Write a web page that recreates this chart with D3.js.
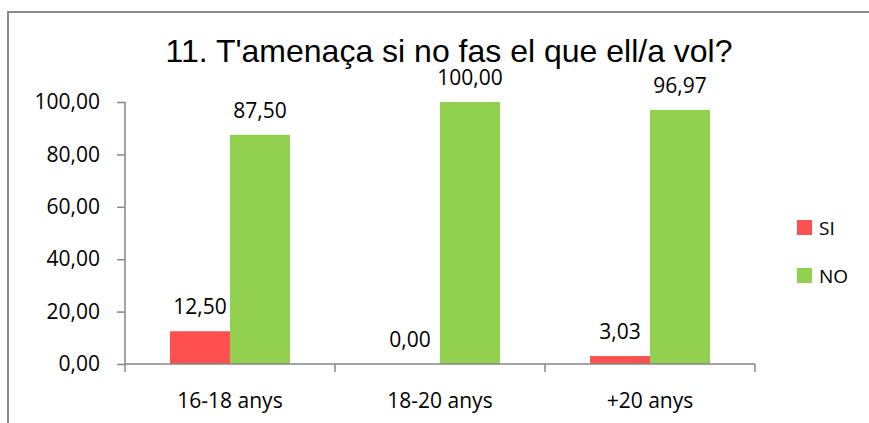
<!DOCTYPE html>
<html>
<head>
<meta charset="utf-8">
<script src="https://cdn.jsdelivr.net/npm/d3@7"></script>
<style>
  body { margin: 0; background: #fff; }
  svg { display: block; }
</style>
</head>
<body>
<svg id="chart" width="869" height="423"></svg>
<script>
// chart data
const categories = ['16-18 anys', '18-20 anys', '+20 anys'];
const seriesNames = ['SI', 'NO'];
const siValues = [12.50, 0.00, 3.03];
const noValues = [87.50, 100.00, 96.97];
const yTicks = [0, 20, 40, 60, 80, 100];
const titleText = "11. T'amenaça si no fas el que ell/a vol?";

const color = d3.scaleOrdinal().domain(seriesNames).range(['#FF5050', '#92D050']);
const fmt = v => d3.format('.2f')(v).replace('.', ',');
const labelFont = "'Open Sans', sans-serif";

const svg = d3.select('#chart');

// outer frame (runs off the right/bottom of the picture)
svg.append('rect')
    .attr('x', 8).attr('y', 12)
    .attr('width', 900).attr('height', 450)
    .attr('fill', '#fff')
    .attr('stroke', '#8a8a8a')
    .attr('stroke-width', 2);

// Scales
const x0 = d3.scaleBand().domain(categories).range([125, 755]);
const x1 = d3.scaleBand().domain(seriesNames).range([0, 120]);
const y = d3.scaleLinear().domain([0, 100]).range([364, 102]);

const rows = categories.map((c, i) => ({ cat: c, SI: siValues[i], NO: noValues[i] }));

// Title
svg.append('text')
    .attr('x', 449).attr('y', 62)
    .attr('text-anchor', 'middle')
    .style('font-family', "'Liberation Sans', Arial, sans-serif")
    .style('font-size', '32px')
    .attr('fill', '#000')
    .text(titleText);

// Y axis
const yAxis = svg.append('g')
    .attr('transform', 'translate(125,0)')
    .call(d3.axisLeft(y).tickValues(yTicks).tickSize(8).tickPadding(17).tickFormat(fmt));
yAxis.select('.domain').attr('stroke', '#868686').attr('stroke-width', 1.5)
    .attr('d', 'M0,102V372');
yAxis.selectAll('.tick line').attr('stroke', '#868686').attr('stroke-width', 1.5);
yAxis.selectAll('.tick text')
    .style('font-family', labelFont).style('font-size', '21px').attr('fill', '#000');

// Bars
const groups = svg.append('g').selectAll('g')
    .data(rows)
    .join('g')
    .attr('transform', d => `translate(${x0(d.cat) + (x0.bandwidth() - 120) / 2},0)`);

groups.selectAll('rect')
    .data(d => seriesNames.map(s => ({ s, v: d[s] })))
    .join('rect')
    .attr('x', d => x1(d.s))
    .attr('y', d => y(d.v))
    .attr('width', x1.bandwidth())
    .attr('height', d => y(0) - y(d.v))
    .attr('fill', d => color(d.s));

groups.selectAll('text')
    .data(d => seriesNames.map(s => ({ s, v: d[s] })))
    .join('text')
    .attr('x', d => x1(d.s) + x1.bandwidth() / 2)
    .attr('y', d => y(d.v) - 17)
    .attr('text-anchor', 'middle')
    .style('font-family', labelFont).style('font-size', '21px')
    .attr('fill', '#000')
    .text(d => fmt(d.v));

// X axis
const xAxis = svg.append('g')
    .attr('transform', 'translate(0,364)');
xAxis.append('path')
    .attr('d', 'M125,0H755')
    .attr('stroke', '#868686').attr('stroke-width', 1.5);
xAxis.selectAll('line.sep')
    .data(categories)
    .join('line')
    .attr('class', 'sep')
    .attr('x1', d => x0(d) + x0.bandwidth()).attr('x2', d => x0(d) + x0.bandwidth())
    .attr('y1', 0).attr('y2', 8)
    .attr('stroke', '#868686').attr('stroke-width', 1.5);
xAxis.selectAll('text')
    .data(categories)
    .join('text')
    .attr('x', d => x0(d) + x0.bandwidth() / 2)
    .attr('y', 44)
    .attr('text-anchor', 'middle')
    .style('font-family', labelFont).style('font-size', '21px')
    .attr('fill', '#000')
    .text(d => d);

// Legend
const legend = svg.append('g').selectAll('g')
    .data(seriesNames)
    .join('g')
    .attr('transform', (d, i) => `translate(797,${220 + i * 48})`);
legend.append('rect')
    .attr('width', 15).attr('height', 15)
    .attr('fill', d => color(d));
legend.append('text')
    .attr('x', 22).attr('y', 15)
    .style('font-family', labelFont).style('font-size', '19px')
    .attr('fill', '#000')
    .text(d => d);
</script>
</body>
</html>
